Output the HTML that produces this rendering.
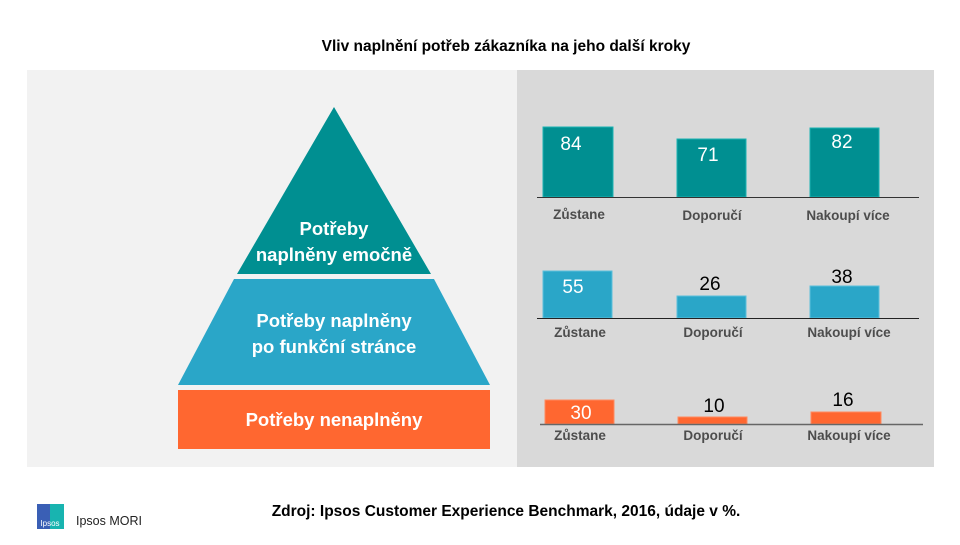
<!DOCTYPE html>
<html><head><meta charset="utf-8"><style>
body{margin:0;width:960px;height:540px;background:#fff;font-family:"Liberation Sans",sans-serif;overflow:hidden}
</style></head><body>
<svg width="960" height="540" xmlns="http://www.w3.org/2000/svg" font-family="Liberation Sans, sans-serif">
<text x="506" y="51" font-size="15.5" font-weight="bold" text-anchor="middle" fill="#000">Vliv naplnění potřeb zákazníka na jeho další kroky</text>
<rect x="27" y="70" width="490" height="397" fill="#f2f2f2"/>
<rect x="517" y="70" width="417" height="397" fill="#d9d9d9"/>
<polygon points="334,107 431,274 237,274" fill="#008f91"/>
<polygon points="234,279 434,279 490,385 178,385" fill="#2aa6c8"/>
<rect x="178" y="390" width="312" height="59" fill="#ff6730"/>
<g fill="#fff" font-weight="bold" font-size="18.5" text-anchor="middle">
<text x="334" y="235">Potřeby</text>
<text x="334" y="261">naplněny emočně</text>
<text x="334" y="327">Potřeby naplněny</text>
<text x="334" y="353">po funkční stránce</text>
<text x="334" y="426">Potřeby nenaplněny</text>
</g>
<g fill="#008f91" stroke="#1bb3b3" stroke-width="1">
<rect x="543" y="127" width="70" height="70"/><rect x="677" y="139" width="69" height="58"/><rect x="810" y="128" width="69" height="69"/></g>
<g fill="#2aa6c8" stroke="#5cc0dc" stroke-width="1">
<rect x="543" y="271" width="69" height="47"/><rect x="677" y="296" width="69" height="22"/><rect x="810" y="286" width="69" height="32"/></g>
<g fill="#ff6730" stroke="#ff8a60" stroke-width="1">
<rect x="545" y="400" width="69" height="24"/><rect x="678" y="417" width="69" height="7"/><rect x="811" y="412" width="70" height="12"/></g>
<line x1="537" y1="197.5" x2="919" y2="197.5" stroke="#333" stroke-width="1"/>
<line x1="537" y1="318.5" x2="919" y2="318.5" stroke="#222" stroke-width="1"/>
<line x1="540" y1="424.5" x2="923" y2="424.5" stroke="#666" stroke-width="1.5"/>
<g font-size="19" text-anchor="middle">
<text x="571" y="150" fill="#fff">84</text><text x="708" y="161" fill="#fff">71</text><text x="842" y="148" fill="#fff">82</text>
<text x="573" y="293" fill="#fff">55</text><text x="710" y="290" fill="#000">26</text><text x="842" y="283" fill="#000">38</text>
<text x="581" y="419" fill="#fff">30</text><text x="714" y="412" fill="#000">10</text><text x="843" y="406" fill="#000">16</text>
</g>
<g font-size="13.5" font-weight="bold" fill="#4d4d4d" text-anchor="middle">
<text x="579" y="219">Zůstane</text><text x="712" y="220">Doporučí</text><text x="848" y="220">Nakoupí více</text>
<text x="580" y="337">Zůstane</text><text x="713" y="337">Doporučí</text><text x="849" y="337">Nakoupí více</text>
<text x="580" y="440">Zůstane</text><text x="713" y="440">Doporučí</text><text x="849" y="440">Nakoupí více</text>
</g>
<text x="506" y="516" font-size="15.5" font-weight="bold" text-anchor="middle" fill="#000">Zdroj: Ipsos Customer Experience Benchmark, 2016, údaje v %.</text>
<rect x="37" y="504" width="13" height="25" fill="#3a5fb5"/><rect x="50" y="504" width="14" height="25" fill="#18b4b0"/>
<text x="50" y="526" font-size="8" fill="#fff" text-anchor="middle">Ipsos</text>
<text x="76" y="525" font-size="12.5" fill="#222">Ipsos MORI</text>
</svg>
</body></html>
